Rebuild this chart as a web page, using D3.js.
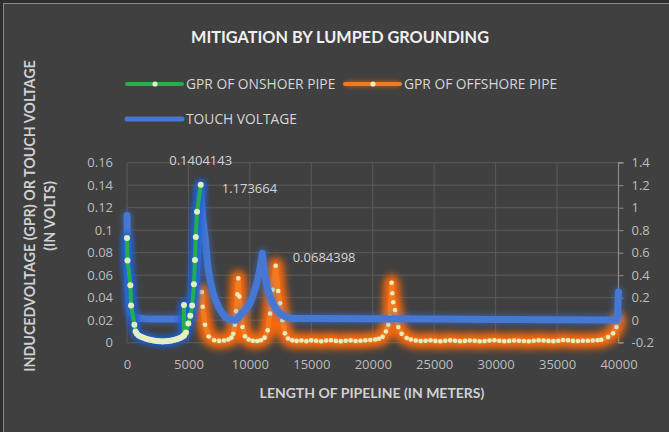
<!DOCTYPE html>
<html>
<head>
<meta charset="utf-8">
<script src="https://cdn.jsdelivr.net/npm/d3@7"></script>
<style>
  html, body { margin: 0; padding: 0; background: #2d2d2d; }
  svg { display: block; }
</style>
</head>
<body>
<svg id="chart" width="669" height="432"></svg>
<script>
// ---- data ----
const chartTitle = "MITIGATION BY LUMPED GROUNDING";
const xAxisTitle = "LENGTH OF PIPELINE (IN METERS)";
const yAxisTitleLines = ["INDUCEDVOLTAGE (GPR) OR TOUCH VOLTAGE", "(IN VOLTS)"];
const seriesNames = ["GPR OF ONSHOER PIPE", "GPR OF OFFSHORE PIPE", "TOUCH VOLTAGE"];

const xTicks = [0, 5000, 10000, 15000, 20000, 25000, 30000, 35000, 40000];
const leftTicks = [0, 0.02, 0.04, 0.06, 0.08, 0.1, 0.12, 0.14, 0.16];
const rightTicks = [-0.2, 0, 0.2, 0.4, 0.6, 0.8, 1, 1.2, 1.4];

// GPR of onshore pipe (left axis)
const onshoreX = [0, 40, 270, 330, 600, 700, 800, 950, 1100, 1250, 1400, 1550, 1700, 1850,
  2000, 2150, 2300, 2450, 2600, 2750, 2900, 3050, 3200, 3350, 3500, 3650, 3800, 3950,
  4100, 4250, 4400, 4520, 4610, 4640, 4670, 4800, 4990, 5150, 5300, 5450, 5530, 5600, 5700, 6000];
const onshoreGpr = [0.093, 0.073, 0.051, 0.033, 0.016, 0.010, 0.008, 0.0065, 0.0055, 0.0048, 0.0042, 0.0036, 0.0031, 0.0027,
  0.0023, 0.002, 0.0017, 0.0015, 0.0013, 0.0012, 0.0011, 0.0012, 0.0013, 0.0015, 0.0017, 0.002, 0.0024, 0.0029,
  0.0034, 0.004, 0.0047, 0.0055, 0.006, 0.0335, 0.0068, 0.009, 0.017, 0.024, 0.033, 0.052, 0.0735, 0.094, 0.1165, 0.1404143];

// GPR of offshore pipe (left axis)
const offshoreX = [6080, 6150, 6350, 6650, 7100, 7500, 7900, 8250, 8500, 8650, 8780, 8880, 8980, 9060,
  9150, 9250, 9400, 9600, 9900, 10250, 10600, 10900, 11200, 11450, 11650, 11850, 12100,
  12300, 12450, 12650, 12850, 13100, 13450,
  13800, 14200, 14600, 15000, 15400, 15800, 16200, 16600, 17000, 17400, 17800, 18200, 18600,
  19000, 19400, 19800, 20200,
  20500, 20800, 21080, 21265, 21400, 21540, 21590, 21670, 21810, 21950, 22080, 22350, 22760, 23100,
  23500, 23900, 24300, 24700, 25100, 25500, 25900, 26300, 26700, 27100, 27500, 27900, 28300, 28700,
  29100, 29500, 29900, 30300, 30700, 31100, 31500, 31900, 32300, 32700, 33100, 33500, 33900, 34300,
  34700, 35100, 35500, 35900, 36300, 36700, 37100, 37500, 37900, 38300,
  38600, 39150, 39560, 39830, 40000];
const offshoreGpr = [0.045, 0.032, 0.016, 0.0055, 0.0022, 0.0016, 0.0019, 0.0028, 0.0045, 0.008, 0.016, 0.028, 0.043, 0.0572,
  0.041, 0.026, 0.014, 0.0058, 0.0028, 0.0017, 0.0015, 0.0022, 0.0045, 0.011, 0.026, 0.047, 0.0684398,
  0.046, 0.035, 0.02, 0.0083, 0.0038, 0.0021,
  0.0016, 0.0019, 0.0014, 0.0021, 0.0017, 0.0013, 0.0019, 0.0022, 0.0016, 0.0014, 0.0018, 0.0021, 0.0015,
  0.0017, 0.0021, 0.0024, 0.0029,
  0.0035, 0.0052, 0.010, 0.016, 0.023, 0.0533, 0.044, 0.036, 0.029, 0.020, 0.014, 0.008, 0.0042, 0.0028,
  0.0019, 0.0015, 0.0018, 0.0022, 0.0016, 0.0013, 0.0017, 0.0021, 0.0018, 0.0014, 0.0016, 0.0020, 0.0017, 0.0013,
  0.0015, 0.0019, 0.0022, 0.0017, 0.0014, 0.0016, 0.0020, 0.0018, 0.0015, 0.0013, 0.0017, 0.0021, 0.0019, 0.0016,
  0.0014, 0.0018, 0.0024, 0.0021, 0.0016, 0.0015, 0.0018, 0.0017, 0.0020, 0.0022,
  0.0026, 0.005, 0.0083, 0.014, 0.02];

// Touch voltage (right axis)
const touchX = [0, 40, 100, 180, 300, 500, 800, 1500, 2500, 3500, 4400, 4800, 5000, 5200, 5400, 5550,
  5670, 5780, 5860, 5940, 6000, 6100, 6200, 6350, 6500, 6620, 6800, 7020, 7200, 7430, 7700, 7975,
  8250, 8600, 8800, 9100, 9330, 9700, 10010, 10300, 10555, 10750, 10905, 11010, 11120, 11230, 11420,
  11640, 11900, 12180, 12500, 12860, 13250, 13670, 15000, 20000, 25000, 30000, 35000, 39900, 40000];
const touchV = [0.93, 0.6, 0.3, 0.15, 0.07, 0.035, 0.02, 0.012, 0.01, 0.01, 0.01, 0.012, 0.025, 0.06, 0.15, 0.28,
  0.446, 0.65, 0.89, 1.05, 1.173664, 0.98, 0.87, 0.742, 0.56, 0.446, 0.34, 0.239, 0.18, 0.12, 0.07, 0.031,
  0.012, 0.003, 0.0, 0.025, 0.061, 0.1, 0.15, 0.23, 0.328, 0.42, 0.506, 0.595, 0.48, 0.387, 0.29,
  0.209, 0.14, 0.091, 0.055, 0.031, 0.02, 0.015, 0.016, 0.013, 0.01, 0.007, 0.004, 0.002, 0.25];

// ---- layout ----
const W = 669, H = 432;
const plot = { left: 127, right: 618.5, top: 162.7, bottom: 342.7 };

const svg = d3.select("#chart");
const defs = svg.append("defs");

function glowFilter(id, sd) {
  const f = defs.append("filter").attr("id", id)
    .attr("filterUnits", "userSpaceOnUse")
    .attr("x", 0).attr("y", 0).attr("width", W).attr("height", H);
  f.append("feGaussianBlur").attr("stdDeviation", sd);
}
glowFilter("blurOrange", 3.6);
glowFilter("blurBlue", 2.6);
glowFilter("blurGreen", 2.4);
glowFilter("blurLegend", 2);

// chart area with a thin frame on its outer edge
svg.append("rect").attr("x", 0).attr("y", 0).attr("width", W).attr("height", H).attr("fill", "#2d2d2d");
svg.append("rect").attr("x", 3.5).attr("y", 3.5).attr("width", W + 10).attr("height", H + 10)
  .attr("fill", "#404040").attr("stroke", "#8a8a8a").attr("stroke-width", 1);

const x = d3.scaleLinear().domain([0, 40000]).range([plot.left, plot.right]);
const yL = d3.scaleLinear().domain([0, 0.16]).range([plot.bottom, plot.top]);
const yR = d3.scaleLinear().domain([-0.2, 1.4]).range([plot.bottom, plot.top]);

// gridlines
const grid = svg.append("g");
grid.selectAll("line.h").data(leftTicks).join("line")
  .attr("x1", plot.left).attr("x2", plot.right)
  .attr("y1", d => yL(d)).attr("y2", d => yL(d))
  .attr("stroke", "#5b5b5b").attr("stroke-width", 1);
grid.selectAll("line.v").data(xTicks).join("line")
  .attr("x1", d => x(d)).attr("x2", d => x(d))
  .attr("y1", plot.top).attr("y2", plot.bottom)
  .attr("stroke", "#5b5b5b").attr("stroke-width", 1);

// axes
const tickFont = "'Open Sans', 'Noto Sans', sans-serif";
const xAxis = svg.append("g").attr("transform", `translate(0,${plot.bottom + 9})`)
  .call(d3.axisBottom(x).tickValues(xTicks).tickFormat(d3.format("d")).tickSize(0).tickPadding(8));
const yAxisL = svg.append("g").attr("transform", `translate(${plot.left - 14},0)`)
  .call(d3.axisLeft(yL).tickValues(leftTicks).tickFormat(d => String(+d.toFixed(2))).tickSize(0).tickPadding(0));
const yAxisR = svg.append("g").attr("transform", `translate(${plot.right},0)`)
  .call(d3.axisRight(yR).tickValues(rightTicks).tickFormat(d => String(+d.toFixed(1))).tickSize(5).tickPadding(8));
[xAxis, yAxisL, yAxisR].forEach(g => {
  g.selectAll("text").attr("fill", "#bdbdbd").style("font-family", tickFont).style("font-size", "13px");
});
xAxis.select(".domain").remove();
yAxisL.select(".domain").remove();
yAxisR.select(".domain").attr("stroke", "#8c8c8c").attr("stroke-width", 1.2).attr("d", `M5,${plot.top}H0V${plot.bottom}H5`);
yAxisR.selectAll(".tick line").attr("stroke", "#8c8c8c");

// series helpers
const ptsOn = onshoreX.map((d, i) => [d, onshoreGpr[i]]);
const ptsOff = offshoreX.map((d, i) => [d, offshoreGpr[i]]);
const ptsTouch = touchX.map((d, i) => [d, touchV[i]]);
const lineL = d3.line().x(d => x(d[0])).y(d => yL(d[1]));
const lineR = d3.line().x(d => x(d[0])).y(d => yR(d[1]));
const markerColor = "#e3efc0";

// offshore GPR (orange, with a wide orange glow)
const gOff = svg.append("g");
gOff.append("path").attr("d", lineL(ptsOff)).attr("fill", "none")
  .attr("stroke", "#f5680a").attr("stroke-width", 16).attr("stroke-linejoin", "round").attr("stroke-linecap", "round")
  .attr("opacity", 1).attr("filter", "url(#blurOrange)");
gOff.append("path").attr("d", lineL(ptsOff)).attr("fill", "none")
  .attr("stroke", "#f47a20").attr("stroke-width", 5).attr("stroke-linejoin", "round").attr("stroke-linecap", "round");
gOff.selectAll("circle").data(ptsOff).join("circle")
  .attr("cx", d => x(d[0])).attr("cy", d => yL(d[1])).attr("r", 2.3).attr("fill", markerColor);

// touch voltage (blue, secondary axis)
const gTouch = svg.append("g");
gTouch.append("path").attr("d", lineR(ptsTouch)).attr("fill", "none")
  .attr("stroke", "#3d7be6").attr("stroke-width", 11).attr("stroke-linejoin", "round").attr("stroke-linecap", "round")
  .attr("opacity", 0.4).attr("filter", "url(#blurBlue)");
gTouch.append("path").attr("d", lineR(ptsTouch)).attr("fill", "none")
  .attr("stroke", "#4677d2").attr("stroke-width", 7).attr("stroke-linejoin", "round").attr("stroke-linecap", "round");

// onshore GPR (green, with a blue glow)
const gOn = svg.append("g");
gOn.append("path").attr("d", lineL(ptsOn)).attr("fill", "none")
  .attr("stroke", "#1f5fd8").attr("stroke-width", 12).attr("stroke-linejoin", "round").attr("stroke-linecap", "round")
  .attr("opacity", 0.9).attr("filter", "url(#blurGreen)");
gOn.append("path").attr("d", lineL(ptsOn)).attr("fill", "none")
  .attr("stroke", "#22b04b").attr("stroke-width", 4).attr("stroke-linejoin", "round").attr("stroke-linecap", "round");
gOn.selectAll("circle").data(ptsOn).join("circle")
  .attr("cx", d => x(d[0])).attr("cy", d => yL(d[1])).attr("r", 3).attr("fill", markerColor);

// data labels
const labelFont = "'Open Sans', 'Noto Sans', sans-serif";
const peakOn = ptsOn[ptsOn.length - 1];
const peakOff = ptsOff[offshoreGpr.indexOf(d3.max(offshoreGpr))];
const peakTouch = ptsTouch[touchV.indexOf(d3.max(touchV))];
const labels = svg.append("g").attr("fill", "#d4d4d4").style("font-family", labelFont).style("font-size", "13px");
labels.append("text").attr("x", x(peakOn[0])).attr("y", yL(peakOn[1]) - 20).attr("text-anchor", "middle")
  .text(String(peakOn[1]));
labels.append("text").attr("x", x(peakTouch[0]) + 21).attr("y", yR(peakTouch[1])).attr("dy", "0.35em")
  .text(String(peakTouch[1]));
labels.append("text").attr("x", x(peakOff[0]) + 17).attr("y", yL(peakOff[1]) - 8).attr("dy", "0.35em")
  .text(String(peakOff[1]));

// title
svg.append("text").attr("x", 340).attr("y", 37).attr("dy", "0.35em").attr("text-anchor", "middle")
  .attr("fill", "#f0f0f0").style("font-family", "Lato, sans-serif").style("font-weight", 700).style("font-size", "16.3px")
  .text(chartTitle);

// axis titles
svg.append("text").attr("x", 372).attr("y", 393).attr("dy", "0.35em").attr("text-anchor", "middle")
  .attr("fill", "#d0d0d0").style("font-family", "Lato, sans-serif").style("font-weight", 700).style("font-size", "14px")
  .text(xAxisTitle);
const yt = svg.append("text").attr("transform", "translate(30,216) rotate(-90)").attr("text-anchor", "middle")
  .attr("fill", "#d0d0d0").style("font-family", "Lato, sans-serif").style("font-weight", 700).style("font-size", "14.3px");
yt.selectAll("tspan").data(yAxisTitleLines).join("tspan")
  .attr("x", 0).attr("dy", (d, i) => i === 0 ? "0.35em" : "1.4em").text(d => d);

// legend
const legend = svg.append("g").style("font-family", tickFont).style("font-size", "13.8px").attr("fill", "#d6d6d6");
const legendItems = [
  { name: seriesNames[0], x: 127, y: 84, color: "#22b04b", marker: true, glow: null, w: 4 },
  { name: seriesNames[1], x: 345, y: 84, color: "#f47a20", marker: true, glow: "#f26b12", w: 4 },
  { name: seriesNames[2], x: 127, y: 119, color: "#4677d2", marker: false, glow: null, w: 5 }
];
legendItems.forEach(it => {
  if (it.glow) {
    legend.append("line").attr("x1", it.x).attr("x2", it.x + 55).attr("y1", it.y).attr("y2", it.y)
      .attr("stroke", it.glow).attr("stroke-width", 7).attr("opacity", 0.45).attr("filter", "url(#blurLegend)");
  }
  legend.append("line").attr("x1", it.x).attr("x2", it.x + 55).attr("y1", it.y).attr("y2", it.y)
    .attr("stroke", it.color).attr("stroke-width", it.w).attr("stroke-linecap", "round");
  if (it.marker) {
    legend.append("circle").attr("cx", it.x + 28).attr("cy", it.y).attr("r", 2.6).attr("fill", markerColor);
  }
  legend.append("text").attr("x", it.x + 59).attr("y", it.y).attr("dy", "0.35em").text(it.name);
});
</script>
</body>
</html>
